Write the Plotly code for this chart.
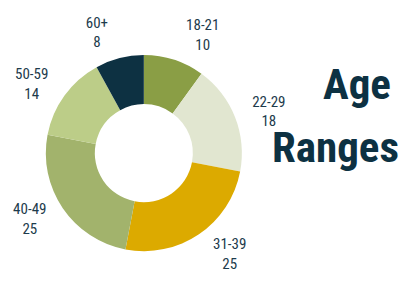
import plotly.graph_objects as go

categories = ["18-21", "22-29", "31-39", "40-49", "50-59", "60+"]
values = [10, 18, 25, 25, 14, 8]
colors = ["#8a9e45", "#e1e6d0", "#dcaa00", "#a2b36c", "#bccd88", "#0d3142"]

FONT = "Roboto Condensed, Liberation Sans Narrow, DejaVu Sans Condensed, sans-serif"
OFFX, OFFY = 8, 8  # default page body margin
W, H = 398, 270
cx, cy, r = 140.5 - OFFX, 154.3 - OFFY, 99.5
rl = 108  # ring that carries the outside labels


def dom(rad):
    return dict(x=[(cx - rad) / W, (cx + rad) / W], y=[(H - cy - rad) / H, (H - cy + rad) / H])


fig = go.Figure()
# invisible ring carrying the outside labels
fig.add_trace(go.Pie(
    labels=categories, values=values, hole=0.9, sort=False,
    direction="clockwise", rotation=0,
    marker=dict(colors=["rgba(0,0,0,0)"] * len(values), line=dict(width=0)),
    texttemplate="%{label}<br>%{value}", textposition="outside",
    textfont=dict(family=FONT, size=15, color="#1d3b4c"),
    domain=dom(rl), showlegend=False, hoverinfo="skip",
))
# visible donut
fig.add_trace(go.Pie(
    labels=categories, values=values, hole=0.5, sort=False,
    direction="clockwise", rotation=0,
    marker=dict(colors=colors, line=dict(width=0)),
    textinfo="none", domain=dom(r), showlegend=False,
))

fig.add_annotation(
    text="<b>Age</b>", x=(356 - OFFX) / W, y=1 - (84 - OFFY) / H, xref="paper", yref="paper",
    showarrow=False, xanchor="center", yanchor="middle",
    font=dict(family=FONT, size=43, color="#0d3142"),
)
fig.add_annotation(
    text="<b>Ranges</b>", x=(335 - OFFX) / W, y=1 - (148 - OFFY) / H, xref="paper", yref="paper",
    showarrow=False, xanchor="center", yanchor="middle",
    font=dict(family=FONT, size=43, color="#0d3142"),
)

fig.update_layout(
    width=W, height=H,
    margin=dict(l=0, r=0, t=0, b=0),
    paper_bgcolor="white", plot_bgcolor="white",
)

fig.write_html("out.html")
